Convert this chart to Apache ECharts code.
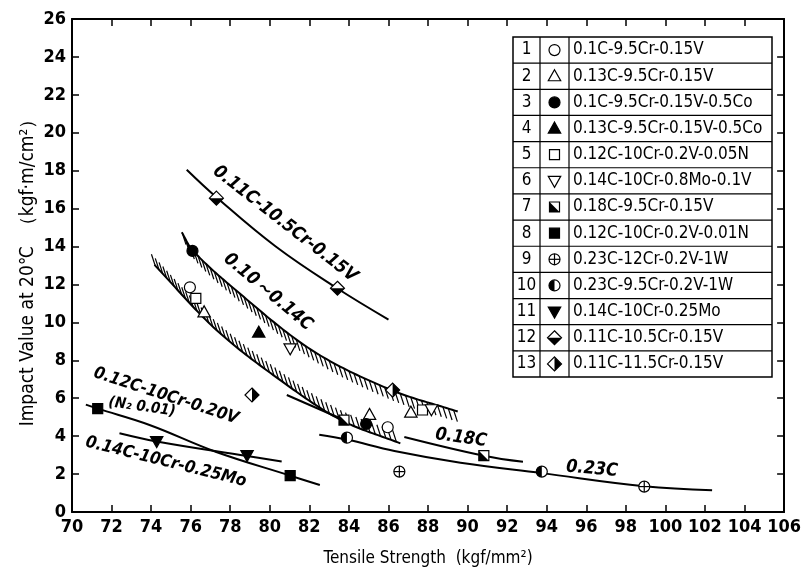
<!DOCTYPE html>
<html>
<head>
<meta charset="utf-8">
<title>Impact value vs tensile strength</title>
<script src="https://cdn.jsdelivr.net/npm/echarts@6.0.0/dist/echarts.min.js"></script>
<style>
  html, body { margin: 0; padding: 0; background: #fff; }
  #chart { width: 804px; height: 577px; }
</style>
</head>
<body>
<div id="chart"></div>
<script>
const NARROW = "'Liberation Sans Narrow', 'DejaVu Sans Condensed', 'Liberation Sans', sans-serif";

// axis ranges [min, max, interval]
const xRange = [70, 106, 2];
const yRange = [0, 26, 2];
const xTitle = 'Tensile Strength  (kgf/mm²)';
const yTitle = 'Impact Value at 20℃  （kgf·m/cm²）';

// measured points [tensile strength, impact value], one list per steel
const steel1 = [[75.96, 11.85], [85.96, 4.47]];
const steel2 = [[76.68, 10.53], [85.04, 5.12], [87.13, 5.24]];
const steel3 = [[76.09, 13.77], [84.87, 4.64]];
const steel4 = [[79.44, 9.46]];
const steel5 = [[76.26, 11.27], [87.72, 5.38]];
const steel6 = [[81.03, 8.63], [88.17, 5.42]];
const steel7 = [[83.75, 4.85], [90.82, 2.97]];
const steel8 = [[71.3, 5.45], [81.03, 1.92]];
const steel9 = [[86.55, 2.13], [98.93, 1.34]];
const steel10 = [[83.9, 3.92], [93.75, 2.13]];
const steel11 = [[74.28, 3.74], [78.85, 3.0]];
const steel12 = [[77.3, 16.55], [83.42, 11.8]];
const steel13 = [[79.1, 6.17], [86.21, 6.43]];

const steelNames = [
  '0.1C-9.5Cr-0.15V',
  '0.13C-9.5Cr-0.15V',
  '0.1C-9.5Cr-0.15V-0.5Co',
  '0.13C-9.5Cr-0.15V-0.5Co',
  '0.12C-10Cr-0.2V-0.05N',
  '0.14C-10Cr-0.8Mo-0.1V',
  '0.18C-9.5Cr-0.15V',
  '0.12C-10Cr-0.2V-0.01N',
  '0.23C-12Cr-0.2V-1W',
  '0.23C-9.5Cr-0.2V-1W',
  '0.14C-10Cr-0.25Mo',
  '0.11C-10.5Cr-0.15V',
  '0.11C-11.5Cr-0.15V'
];
const steelPoints = [steel1, steel2, steel3, steel4, steel5, steel6, steel7,
  steel8, steel9, steel10, steel11, steel12, steel13];

// trend curves
const curve011 = [[75.8, 18.05], [77.3, 16.6], [80.3, 14.0], [83.4, 11.8], [86.0, 10.15]];
const bandUpper = [[75.55, 14.75], [76.1, 13.8], [78.0, 11.95], [82.1, 8.55], [86.1, 6.45], [89.5, 5.3]];
const bandLower = [[74.17, 13.03], [77.3, 9.6], [80.6, 6.9], [83.6, 4.85], [86.6, 3.62]];
const curve012 = [[70.7, 5.66], [71.3, 5.45], [73.92, 4.59], [77.26, 3.18], [81.03, 1.92], [82.53, 1.42]];
const curve014 = [[72.4, 4.15], [74.28, 3.72], [78.85, 2.95], [80.6, 2.66]];
const curve018a = [[80.86, 6.17], [83.75, 4.85]];
const curve018b = [[86.8, 3.96], [90.82, 2.97], [92.8, 2.65]];
const curve023 = [[82.5, 4.08], [83.9, 3.82], [86.3, 3.22], [89.64, 2.6], [93.75, 2.05], [98.93, 1.36], [102.36, 1.15]];

// curve annotations
const curveLabels = [
  { text: '0.11C-10.5Cr-0.15V', x: 285, y: 224, rot: -38, size: 18 },
  { text: '0.10～0.14C', x: 268, y: 292, rot: -40, size: 18 },
  { text: '0.12C-10Cr-0.20V', x: 166, y: 396, rot: -18, size: 17 },
  { text: '(N₂ 0.01)', x: 142, y: 407, rot: -8, size: 15 },
  { text: '0.14C-10Cr-0.25Mo', x: 166, y: 462, rot: -14, size: 17 },
  { text: '0.18C', x: 461, y: 438, rot: -8, size: 18 },
  { text: '0.23C', x: 592, y: 469, rot: -5, size: 18 }
];

const BLACK = '#000';
const WHITE = '#fff';

// build the marker glyph for steel number kind at pixel (x, y)
function symbolShapes(kind, x, y) {
  const r = 5.5;
  const circle = (fill, stroke) => ({ type: 'circle', shape: { cx: x, cy: y, r: r }, style: { fill: fill, stroke: stroke ? BLACK : null, lineWidth: 1.2 } });
  const poly = (pts, fill, stroke) => ({ type: 'polygon', shape: { points: pts }, style: { fill: fill, stroke: stroke ? BLACK : null, lineWidth: 1.2 } });
  const up = [[x, y - 6.5], [x + 6.2, y + 4.5], [x - 6.2, y + 4.5]];
  const down = [[x, y + 6.5], [x + 6.2, y - 4.5], [x - 6.2, y - 4.5]];
  const sq = [[x - 5, y - 5], [x + 5, y - 5], [x + 5, y + 5], [x - 5, y + 5]];
  const dm = [[x, y - 7], [x + 7, y], [x, y + 7], [x - 7, y]];
  switch (kind) {
    case 1: return [circle(WHITE, true)];
    case 2: return [poly(up, WHITE, true)];
    case 3: return [circle(BLACK, true)];
    case 4: return [poly(up, BLACK, true)];
    case 5: return [poly(sq, WHITE, true)];
    case 6: return [poly(down, WHITE, true)];
    case 7: return [poly(sq, WHITE, false), poly([[x - 5, y - 5], [x - 5, y + 5], [x + 5, y + 5]], BLACK, false), poly(sq, null, true)];
    case 8: return [poly(sq, BLACK, true)];
    case 9: return [circle(WHITE, true),
      { type: 'line', shape: { x1: x - r, y1: y, x2: x + r, y2: y }, style: { stroke: BLACK, lineWidth: 1.2 } },
      { type: 'line', shape: { x1: x, y1: y - r, x2: x, y2: y + r }, style: { stroke: BLACK, lineWidth: 1.2 } }];
    case 10: return [circle(WHITE, false),
      { type: 'sector', shape: { cx: x, cy: y, r0: 0, r: r, startAngle: Math.PI / 2, endAngle: Math.PI * 1.5, clockwise: true }, style: { fill: BLACK } },
      circle(null, true)];
    case 11: return [poly(down, BLACK, true)];
    case 12: return [poly(dm, WHITE, false), poly([[x - 7, y], [x + 7, y], [x, y + 7]], BLACK, false), poly(dm, null, true)];
    case 13: return [poly(dm, WHITE, false), poly([[x, y - 7], [x + 7, y], [x, y + 7]], BLACK, false), poly(dm, null, true)];
  }
  return [];
}

function markerSeries(kind, pts) {
  return {
    type: 'custom',
    name: steelNames[kind - 1],
    data: pts,
    z: 10,
    renderItem: (params, api) => {
      const p = api.coord([api.value(0), api.value(1)]);
      return { type: 'group', children: symbolShapes(kind, p[0], p[1]) };
    }
  };
}

function curveSeries(pts) {
  return {
    type: 'line',
    data: pts,
    smooth: 0.4,
    symbol: 'none',
    silent: true,
    z: 4,
    lineStyle: { color: BLACK, width: 2 }
  };
}

// one edge of the scatter band, drawn with its hatching on one side
function bandSeries(pts, dir) {
  return {
    type: 'custom',
    data: pts,
    z: 5,
    silent: true,
    renderItem: (params, api) => {
      if (params.dataIndex !== 0) return { type: 'group', children: [] };
      const P = pts.map(p => api.coord(p));
      const n = P.length;
      const tan = P.map((p, i) => {
        const a = P[Math.max(i - 1, 0)], b = P[Math.min(i + 1, n - 1)];
        const dx = b[0] - a[0], dy = b[1] - a[1], l = Math.hypot(dx, dy);
        return [dx / l, dy / l];
      });
      const path = [];
      for (let i = 0; i < n - 1; i++) {
        const p1 = P[i], p2 = P[i + 1];
        const d = Math.hypot(p2[0] - p1[0], p2[1] - p1[1]) / 3;
        const c1 = [p1[0] + tan[i][0] * d, p1[1] + tan[i][1] * d];
        const c2 = [p2[0] - tan[i + 1][0] * d, p2[1] - tan[i + 1][1] * d];
        for (let s = (i === 0 ? 0 : 1); s <= 24; s++) {
          const t = s / 24, u = 1 - t;
          path.push([
            u * u * u * p1[0] + 3 * u * u * t * c1[0] + 3 * u * t * t * c2[0] + t * t * t * p2[0],
            u * u * u * p1[1] + 3 * u * u * t * c1[1] + 3 * u * t * t * c2[1] + t * t * t * p2[1]
          ]);
        }
      }
      const children = [{ type: 'polyline', shape: { points: path }, style: { stroke: BLACK, lineWidth: 2, fill: null } }];
      const gap = 5.6, len = 12;
      let next = 1;
      let acc = 0;
      for (let k = 1; k < path.length; k++) {
        const a = path[k - 1], b = path[k];
        const seg = Math.hypot(b[0] - a[0], b[1] - a[1]);
        while (acc + seg >= next) {
          const f = (next - acc) / seg;
          const q = [a[0] + (b[0] - a[0]) * f, a[1] + (b[1] - a[1]) * f];
          children.push({ type: 'line', shape: { x1: q[0], y1: q[1], x2: q[0] + dir[0] * len, y2: q[1] + dir[1] * len }, style: { stroke: BLACK, lineWidth: 1.2 } });
          next += gap;
        }
        acc += seg;
      }
      return { type: 'group', children: children };
    }
  };
}

// legend table
const table = { left: 513, top: 37, width: 259, rowH: 340 / 13, col1: 540, col2: 569 };
const legendGraphics = [{
  type: 'rect', z: 20,
  shape: { x: table.left, y: table.top, width: table.width, height: table.rowH * 13 },
  style: { fill: WHITE, stroke: BLACK, lineWidth: 1.5 }
}];
[table.col1, table.col2].forEach(cx => legendGraphics.push({
  type: 'line', z: 21,
  shape: { x1: cx, y1: table.top, x2: cx, y2: table.top + table.rowH * 13 },
  style: { stroke: BLACK, lineWidth: 1.2 }
}));
steelNames.forEach((name, i) => {
  const cy = table.top + table.rowH * (i + 0.5);
  if (i > 0) {
    legendGraphics.push({
      type: 'line', z: 21,
      shape: { x1: table.left, y1: table.top + table.rowH * i, x2: table.left + table.width, y2: table.top + table.rowH * i },
      style: { stroke: BLACK, lineWidth: 1.2 }
    });
  }
  legendGraphics.push({
    type: 'text', z: 22, x: (table.left + table.col1) / 2, y: cy,
    style: { text: String(i + 1), fill: BLACK, fontSize: 17, fontFamily: NARROW, align: 'center', verticalAlign: 'middle' }
  });
  symbolShapes(i + 1, (table.col1 + table.col2) / 2, cy).forEach(el => legendGraphics.push(Object.assign({ z: 23 }, el)));
  legendGraphics.push({
    type: 'text', z: 22, x: table.col2 + 4, y: cy,
    style: { text: name, fill: BLACK, fontSize: 17, fontFamily: NARROW, align: 'left', verticalAlign: 'middle' }
  });
});

const labelGraphics = curveLabels.map(l => ({
  type: 'text', z: 15, x: l.x, y: l.y, rotation: l.rot * Math.PI / 180,
  style: { text: l.text, fill: BLACK, fontSize: l.size, fontWeight: 'bold', fontStyle: 'italic', fontFamily: NARROW, align: 'center', verticalAlign: 'middle' }
}));

// y axis title, set beside the tick labels
const titleGraphics = [{
  type: 'text', z: 15, x: 28, y: 268, rotation: Math.PI / 2,
  style: { text: yTitle, fill: BLACK, fontSize: 19, fontFamily: NARROW, align: 'center', verticalAlign: 'middle' }
}];

const axisLine = { show: true, onZero: false, lineStyle: { color: BLACK, width: 2 } };
const axisTick = { show: true, inside: true, length: 7, lineStyle: { color: BLACK, width: 1.5 } };
const tickFont = { color: BLACK, fontFamily: NARROW, fontWeight: 'bold', fontSize: 18 };

const chart = echarts.init(document.getElementById('chart'));
chart.setOption({
  animation: false,
  backgroundColor: WHITE,
  grid: { left: 72, right: 15, top: 19, bottom: 65, containLabel: false },
  xAxis: [
    {
      type: 'value', min: xRange[0], max: xRange[1], interval: xRange[2], position: 'bottom',
      axisLine: axisLine, axisTick: axisTick, splitLine: { show: false },
      axisLabel: Object.assign({ margin: 6 }, tickFont),
      name: xTitle, nameLocation: 'middle', nameGap: 38,
      nameTextStyle: { color: BLACK, fontFamily: NARROW, fontSize: 17 }
    },
    {
      type: 'value', min: xRange[0], max: xRange[1], interval: xRange[2], position: 'top',
      axisLine: axisLine, axisTick: axisTick, splitLine: { show: false }, axisLabel: { show: false }
    }
  ],
  yAxis: [
    {
      type: 'value', min: yRange[0], max: yRange[1], interval: yRange[2], position: 'left',
      axisLine: axisLine, axisTick: axisTick, splitLine: { show: false },
      axisLabel: Object.assign({ margin: 6 }, tickFont)
    },
    {
      type: 'value', min: yRange[0], max: yRange[1], interval: yRange[2], position: 'right',
      axisLine: axisLine, axisTick: axisTick, splitLine: { show: false }, axisLabel: { show: false }
    }
  ],
  series: [
    curveSeries(curve011),
    curveSeries(curve012),
    curveSeries(curve014),
    curveSeries(curve018a),
    curveSeries(curve018b),
    curveSeries(curve023),
    bandSeries(bandUpper, [0.31, 0.95]),
    bandSeries(bandLower, [-0.31, -0.95])
  ].concat(steelPoints.map((pts, i) => markerSeries(i + 1, pts))),
  graphic: labelGraphics.concat(titleGraphics, legendGraphics)
});
</script>
</body>
</html>
